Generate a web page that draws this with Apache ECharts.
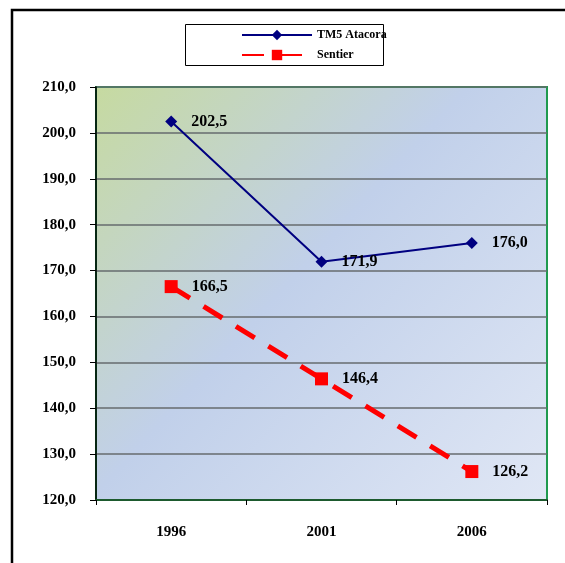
<!DOCTYPE html>
<html><head><meta charset="utf-8">
<script src="https://cdn.jsdelivr.net/npm/echarts@6/dist/echarts.min.js"></script>
<style>html,body{margin:0;padding:0;background:#fff}#c{width:565px;height:563px}</style>
</head><body><div id="c"></div>
<script>
const years = ['1996','2001','2006'];
const tm5 = [202.5, 171.9, 176.0];
const sentier = [166.5, 146.4, 126.2];
const seriesNames = ['TM5 Atacora', 'Sentier'];
const font = '"Liberation Serif", "DejaVu Serif", serif';
const fmt = v => Number(v).toFixed(1).replace('.', ',');
const chart = echarts.init(document.getElementById('c'));
chart.setOption({
  animation: false,
  backgroundColor: '#fff',
  graphic: [
    {type:'rect', z:-1, shape:{x:12, y:10, width:600, height:600}, style:{fill:'none', stroke:'#000', lineWidth:2.5}},
    {type:'rect', z:-1, shape:{x:185.5, y:24.5, width:198, height:41}, style:{fill:'#fff', stroke:'#000', lineWidth:1}}
  ],
  legend: {
    orient: 'vertical', left: 236, top: 24, itemWidth: 70, itemHeight: 13, itemGap: 8,
    textStyle: {fontFamily: font, fontWeight: 'bold', fontSize: 12, color: '#000'},
    data: seriesNames
  },
  grid: {left: 96, right: 18, top: 87, bottom: 63, show: true, borderColor: '#1f9a4e', borderWidth: 2,
    backgroundColor: {type:'linear', x:0, y:0, x2:1, y2:1, colorStops:[
      {offset:0, color:'#c6daa0'}, {offset:0.45, color:'#c1d0ea'}, {offset:1, color:'#e0e7f5'}]}},
  xAxis: {
    type: 'category', data: years, boundaryGap: true,
    axisLine: {lineStyle: {color: '#1d5a2e', width: 2}},
    axisTick: {show: true, length: 5, lineStyle: {color: '#000'}},
    axisLabel: {margin: 25, fontFamily: font, fontWeight: 'bold', fontSize: 15, color: '#000'}
  },
  yAxis: {
    type: 'value', min: 120, max: 210, interval: 10,
    axisLine: {show: true, lineStyle: {color: '#000', width: 1.5}},
    axisTick: {show: true, length: 6, lineStyle: {color: '#000'}},
    axisLabel: {margin: 20, formatter: fmt, fontFamily: font, fontWeight: 'bold', fontSize: 15, color: '#000'},
    splitLine: {lineStyle: {color: '#666b6e', width: 1.5}}
  },
  series: [
    {name: seriesNames[0], type: 'line', data: tm5, symbol: 'diamond', symbolSize: 12,
      itemStyle: {color: '#000080'}, lineStyle: {color: '#000080', width: 2},
      label: {show: true, position: 'right', distance: 14, formatter: p => fmt(p.value),
        fontFamily: font, fontWeight: 'bold', fontSize: 16, color: '#000'}},
    {name: seriesNames[1], type: 'line', data: sentier, symbol: 'rect', symbolSize: 13,
      itemStyle: {color: '#ff0000'}, lineStyle: {color: '#ff0000', width: 5, type: [22, 16]},
      label: {show: true, position: 'right', distance: 14, formatter: p => fmt(p.value),
        fontFamily: font, fontWeight: 'bold', fontSize: 16, color: '#000'}}
  ]
});
</script></body></html>
